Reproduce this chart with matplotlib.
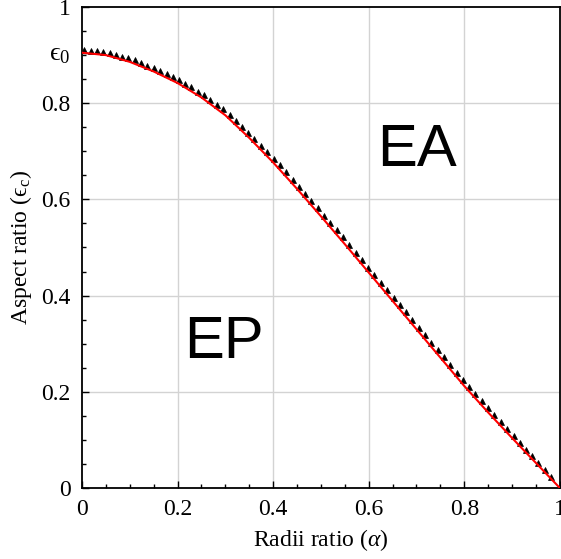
import matplotlib
matplotlib.use("Agg")
import matplotlib.pyplot as plt
from matplotlib.ticker import MultipleLocator

plt.rcParams['font.family'] = ['Liberation Serif', 'DejaVu Serif']
plt.rcParams['mathtext.fontset'] = 'custom'
plt.rcParams['mathtext.rm'] = 'Liberation Serif'
plt.rcParams['mathtext.it'] = 'Liberation Serif:italic'

# Red reference curve
curve_x = [0.0, 0.05, 0.1, 0.15, 0.2, 0.25, 0.3, 0.35, 0.4, 0.45, 0.5,
           0.55, 0.6, 0.65, 0.7, 0.75, 0.8, 0.85, 0.9, 0.95, 1.0]
curve_y = [0.905, 0.900, 0.886, 0.866, 0.842, 0.812, 0.775, 0.728, 0.677, 0.622, 0.565,
           0.507, 0.448, 0.389, 0.330, 0.271, 0.212, 0.157, 0.104, 0.052, 0.0]

# Black triangle data points
pts_x = [0.005, 0.018, 0.031, 0.045, 0.058, 0.071, 0.084, 0.097, 0.111, 0.124,
         0.137, 0.150, 0.163, 0.177, 0.190, 0.203, 0.216, 0.229, 0.243, 0.256,
         0.269, 0.282, 0.295, 0.309, 0.322, 0.335, 0.348, 0.361, 0.375, 0.388,
         0.401, 0.414, 0.427, 0.441, 0.454, 0.467, 0.480, 0.493, 0.507, 0.520,
         0.533, 0.546, 0.559, 0.573, 0.586, 0.599, 0.612, 0.625, 0.639, 0.652,
         0.665, 0.678, 0.691, 0.705, 0.718, 0.731, 0.744, 0.757, 0.771, 0.784,
         0.797, 0.810, 0.823, 0.837, 0.850, 0.863, 0.876, 0.889, 0.903, 0.916,
         0.929, 0.942, 0.955, 0.969, 0.982]
pts_y = [0.910, 0.909, 0.908, 0.906, 0.904, 0.900, 0.897, 0.894, 0.889, 0.883,
         0.878, 0.873, 0.867, 0.861, 0.855, 0.848, 0.840, 0.833, 0.824, 0.816,
         0.806, 0.796, 0.787, 0.775, 0.762, 0.750, 0.738, 0.726, 0.712, 0.698,
         0.685, 0.671, 0.656, 0.641, 0.626, 0.612, 0.597, 0.582, 0.566, 0.551,
         0.536, 0.521, 0.505, 0.489, 0.474, 0.458, 0.443, 0.427, 0.411, 0.396,
         0.380, 0.365, 0.350, 0.333, 0.318, 0.302, 0.287, 0.272, 0.255, 0.240,
         0.225, 0.210, 0.196, 0.180, 0.166, 0.151, 0.137, 0.123, 0.108, 0.094,
         0.080, 0.066, 0.052, 0.037, 0.023]

x_ticks = [0, 0.2, 0.4, 0.6, 0.8, 1]
x_labels = ['0', '0.2', '0.4', '0.6', '0.8', '1']
y_ticks = [0, 0.2, 0.4, 0.6, 0.8, 0.905, 1]
y_labels = ['0', '0.2', '0.4', '0.6', '0.8', '\u03f5$_0$', '1']
grid_vals = [0.2, 0.4, 0.6, 0.8]

fig = plt.figure(figsize=(5.61, 5.59), dpi=100)
ax = fig.add_axes([0.146, 0.127, 0.852, 0.8605])

for g in grid_vals:
    ax.axhline(g, color='#d3d3d3', lw=1.0, zorder=0)
    ax.axvline(g, color='#d3d3d3', lw=1.0, zorder=0)

ax.plot(pts_x, pts_y, linestyle='none', marker='^', color='black',
        markersize=4.3, markeredgewidth=0.5, zorder=2)
ax.plot(curve_x, curve_y, color='red', lw=1.5, zorder=3)

ax.set_xlim(0, 1)
ax.set_ylim(0, 1)
ax.set_xticks(x_ticks)
ax.set_xticklabels(x_labels)
ax.set_yticks(y_ticks)
ax.set_yticklabels(y_labels)
ax.get_yticklabels()[5].set_fontsize(19)
ax.xaxis.set_minor_locator(MultipleLocator(0.05))
ax.yaxis.set_minor_locator(MultipleLocator(0.05))
ax.tick_params(which='both', direction='in', labelsize=17, width=1)
ax.tick_params(which='major', length=5, pad=8)
ax.tick_params(which='minor', length=3)
ax.get_yticklabels()[5].set_fontsize(19)

for s in ax.spines.values():
    s.set_linewidth(1.3)

ax.set_xlabel('Radii ratio ($\\alpha$)', fontsize=17, labelpad=5)
ax.set_ylabel('Aspect ratio (\u03f5$_\\mathrm{c}$)', fontsize=17, labelpad=5)

ax.text(0.702, 0.702, 'EA', fontsize=43, family='Liberation Sans', ha='center', va='center')
ax.text(0.298, 0.303, 'EP', fontsize=43, family='Liberation Sans', ha='center', va='center')

fig.savefig('out.png', dpi=100)
